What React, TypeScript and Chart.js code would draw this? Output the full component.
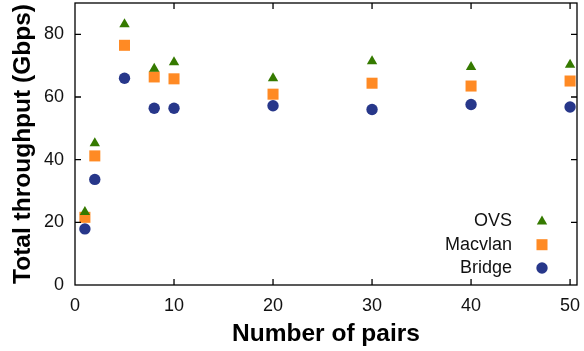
import React, { useEffect, useRef } from 'react';
import { Chart, registerables } from 'chart.js';
import { drawPoint } from 'chart.js/helpers';

Chart.register(...registerables);

const pairs = [1, 2, 5, 8, 10, 20, 30, 40, 50];
const ovs = [23.3, 45.2, 83.2, 69.0, 71.1, 66.0, 71.4, 69.6, 70.3];
const macvlan = [21.6, 41.2, 76.5, 66.4, 65.8, 60.9, 64.4, 63.5, 65.1];
const bridge = [17.9, 33.7, 66.0, 56.4, 56.4, 57.2, 56.0, 57.6, 56.8];

const xTicks = [0, 10, 20, 30, 40, 50];
const yTicks = [0, 20, 40, 60, 80];

const seriesLabels = ['OVS', 'Macvlan', 'Bridge'];
const seriesValues = [ovs, macvlan, bridge];
const seriesColors = ['#357a00', '#ff8a24', '#27378a'];
const seriesShapes = ['triangle', 'rect', 'circle'];
const seriesRadius = [6, 7.8, 5.7];

const FONT = "'Liberation Sans', Arial, sans-serif";

const framePlugin = {
  id: 'frame',
  afterDraw(chart: any) {
    const { ctx, chartArea: a, scales } = chart;
    ctx.save();
    ctx.strokeStyle = '#000';
    ctx.lineWidth = 1.3;
    ctx.strokeRect(a.left, a.top, a.right - a.left, a.bottom - a.top);
    const L = 6;
    ctx.beginPath();
    for (const t of scales.x.ticks) {
      const px = scales.x.getPixelForValue(t.value);
      if (Math.abs(px - a.left) < 1 || Math.abs(px - a.right) < 1) continue;
      ctx.moveTo(px, a.bottom);
      ctx.lineTo(px, a.bottom - L);
      ctx.moveTo(px, a.top);
      ctx.lineTo(px, a.top + L);
    }
    for (const t of scales.y.ticks) {
      const py = scales.y.getPixelForValue(t.value);
      if (Math.abs(py - a.bottom) < 1 || Math.abs(py - a.top) < 1) continue;
      ctx.moveTo(a.left, py);
      ctx.lineTo(a.left + L, py);
      ctx.moveTo(a.right, py);
      ctx.lineTo(a.right - L, py);
    }
    ctx.stroke();

    // legend (bottom-right, inside plot)
    ctx.font = `18px ${FONT}`;
    ctx.textAlign = 'right';
    ctx.textBaseline = 'middle';
    const textRight = a.right - 65;
    const markX = a.right - 35;
    const lastY = a.bottom - 17;
    const step = 23.3;
    const n = chart.data.datasets.length;
    chart.data.datasets.forEach((ds: any, i: number) => {
      const y = lastY - (n - 1 - i) * step;
      ctx.fillStyle = '#111';
      ctx.fillText(ds.label, textRight, y);
      ctx.fillStyle = ds.backgroundColor;
      drawPoint(ctx, { pointStyle: ds.pointStyle, radius: ds.pointRadius, borderWidth: 0, rotation: 0 } as any, markX, y);
    });
    ctx.restore();
  },
};

export default function App() {
  const ref = useRef<HTMLCanvasElement | null>(null);

  useEffect(() => {
    if (!ref.current) return;
    const datasets = seriesLabels.map((label, i) => ({
      label,
      data: pairs.map((x, j) => ({ x, y: seriesValues[i][j] })),
      backgroundColor: seriesColors[i],
      borderColor: seriesColors[i],
      pointStyle: seriesShapes[i],
      pointRadius: seriesRadius[i],
      pointBorderWidth: 0,
      showLine: false,
    }));
    const chart = new Chart(ref.current, {
      type: 'scatter',
      data: { datasets } as any,
      options: {
        responsive: false,
        animation: false,
        layout: { autoPadding: false, padding: { top: 3, right: 7, left: 0, bottom: 0 } },
        plugins: { legend: { display: false }, tooltip: { enabled: false } },
        scales: {
          x: {
            type: 'linear',
            min: 0,
            max: 50.7,
            afterBuildTicks: (s: any) => {
              s.ticks = xTicks.map((v) => ({ value: v }));
            },
            afterFit: (s: any) => {
              s.height = 66;
              s.paddingLeft = 0;
              s.paddingRight = 0;
            },
            grid: { display: false, drawTicks: false },
            border: { display: false },
            ticks: {
              autoSkip: false,
              maxRotation: 0,
              padding: 10,
              color: '#111',
              font: { family: FONT, size: 18 },
            },
            title: {
              display: true,
              text: 'Number of pairs',
              color: '#000',
              font: { family: FONT, size: 24.5, weight: 'bold' },
              padding: { top: 0, bottom: 2 },
            },
          },
          y: {
            type: 'linear',
            min: 0,
            max: 90,
            afterBuildTicks: (s: any) => {
              s.ticks = yTicks.map((v) => ({ value: v }));
            },
            afterFit: (s: any) => {
              s.width = 75;
              s.paddingTop = 0;
              s.paddingBottom = 0;
            },
            grid: { display: false, drawTicks: false },
            border: { display: false },
            ticks: {
              autoSkip: false,
              padding: 11,
              color: '#111',
              font: { family: FONT, size: 18 },
            },
            title: {
              display: true,
              text: 'Total throughput (Gbps)',
              color: '#000',
              font: { family: FONT, size: 24.5, weight: 'bold' },
              padding: { top: 9, bottom: 0 },
            },
          },
        },
      } as any,
      plugins: [framePlugin],
    });
    return () => chart.destroy();
  }, []);

  return (
    <div style={{ position: 'absolute', left: 0, top: 0, width: 584, height: 351 }}>
      <canvas ref={ref} width={584} height={351} />
    </div>
  );
}
